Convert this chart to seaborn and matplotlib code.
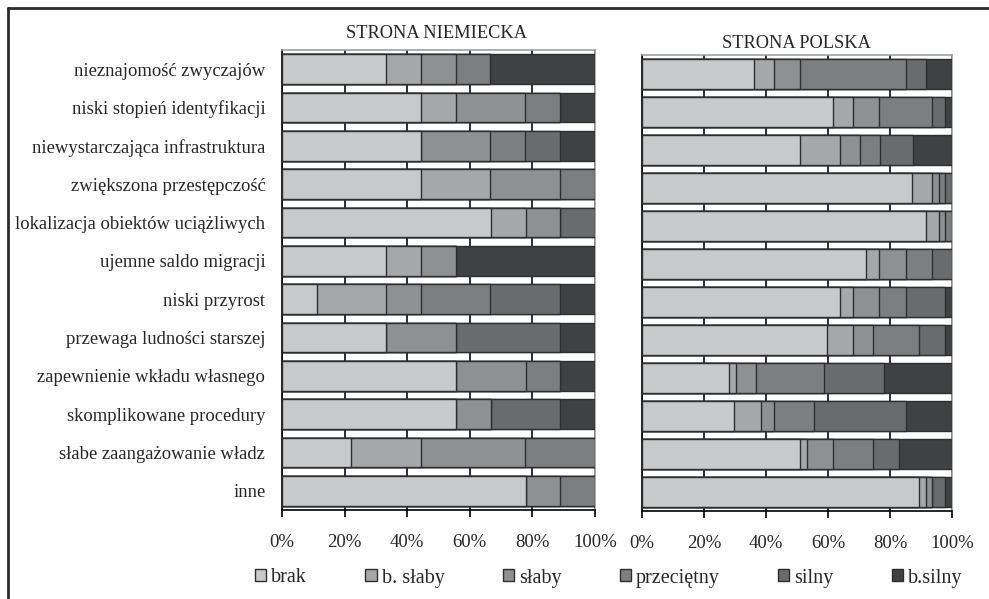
import numpy as np
import pandas as pd
import matplotlib
matplotlib.use("Agg")
import matplotlib.pyplot as plt
from matplotlib.patches import Patch
from matplotlib.lines import Line2D
import seaborn as sns

categories = [
    "nieznajomość zwyczajów",
    "niski stopień identyfikacji",
    "niewystarczająca infrastruktura",
    "zwiększona przestępczość",
    "lokalizacja obiektów uciążliwych",
    "ujemne saldo migracji",
    "niski przyrost",
    "przewaga ludności starszej",
    "zapewnienie wkładu własnego",
    "skomplikowane procedury",
    "słabe zaangażowanie władz",
    "inne",
]
levels = ["brak", "b. słaby", "słaby", "przeciętny", "silny", "b.silny"]
tick_labels = ["0%", "20%", "40%", "60%", "80%", "100%"]
tick_values = [0, 20, 40, 60, 80, 100]

# STRONA NIEMIECKA (percent)
de_brak       = [33.3, 44.4, 44.4, 44.4, 66.7, 33.3, 11.1, 33.3, 55.6, 55.6, 22.2, 77.8]
de_bslaby     = [11.1, 11.1, 0.0, 22.2, 11.1, 11.1, 22.2, 0.0, 0.0, 0.0, 22.2, 0.0]
de_slaby      = [11.1, 22.2, 22.2, 22.2, 11.1, 11.1, 11.1, 22.2, 22.2, 11.1, 33.3, 11.1]
de_przecietny = [11.1, 11.1, 11.1, 11.2, 0.0, 0.0, 22.2, 0.0, 11.1, 0.0, 22.3, 11.1]
de_silny      = [0.0, 0.0, 11.1, 0.0, 11.1, 0.0, 22.2, 33.3, 0.0, 22.2, 0.0, 0.0]
de_bsilny     = [33.4, 11.2, 11.2, 0.0, 0.0, 44.5, 11.2, 11.2, 11.1, 11.1, 0.0, 0.0]

# STRONA POLSKA (percent)
pl_brak       = [36.2, 61.7, 51.1, 87.2, 91.5, 72.3, 63.8, 59.6, 28.0, 29.8, 51.0, 89.4]
pl_bslaby     = [6.4, 6.4, 12.8, 6.4, 4.3, 4.3, 4.3, 8.5, 2.4, 8.5, 2.2, 2.1]
pl_slaby      = [8.5, 8.5, 6.4, 2.1, 2.1, 8.5, 8.5, 6.4, 6.5, 4.3, 8.5, 2.1]
pl_przecietny = [34.0, 17.0, 6.4, 2.1, 2.1, 8.5, 8.5, 14.9, 21.7, 12.8, 12.8, 0.0]
pl_silny      = [6.4, 4.3, 10.6, 2.2, 0.0, 6.4, 12.8, 8.5, 19.6, 29.8, 8.5, 4.3]
pl_bsilny     = [8.5, 2.1, 12.7, 0.0, 0.0, 0.0, 2.1, 2.1, 21.8, 14.8, 17.0, 2.1]

colors = ["#c8c9cb", "#a6a7a9", "#8f9092", "#7d7e80", "#6a6b6d", "#404143"]
edge = "#2e2e30"

sns.set_style("white")
plt.rcParams["font.family"] = ["Liberation Serif", "DejaVu Serif"]
plt.rcParams["font.size"] = 13

fig = plt.figure(figsize=(9.89, 5.99), dpi=100)

def draw(ax, series, show_labels):
    df = pd.DataFrame({lv: s for lv, s in zip(levels, series)}, index=categories)
    cum = df.cumsum(axis=1)
    for lv, c in reversed(list(zip(levels, colors))):
        sns.barplot(x=cum[lv].values, y=categories, orient="h", color=c,
                    edgecolor=edge, linewidth=1.0, width=0.78, ax=ax,
                    saturation=1, zorder=3)
    ax.set_xlim(0, 100)
    ax.set_ylim(len(categories) - 0.5, -0.5)
    ax.set_xticks(tick_values)
    ax.set_xticklabels(tick_labels, fontsize=13.5)
    ax.set_yticks(range(len(categories)))
    if show_labels:
        ax.set_yticklabels(categories, fontsize=13.4)
    else:
        ax.set_yticklabels([])
    ax.set_yticks(np.arange(-0.5, len(categories), 1.0), minor=True)
    ax.tick_params(axis="y", which="major", length=0, pad=12)
    ax.tick_params(axis="y", which="minor", length=6, width=1, color="black", direction="out")
    ax.tick_params(axis="x", which="major", length=5, width=1.2, color="black",
                   direction="out", pad=12, bottom=True)
    ax.set_xlabel("")
    ax.set_ylabel("")
    ax.xaxis.grid(True, color="#1e1e1e", linewidth=1.3, zorder=0)
    ax.yaxis.grid(False)
    ax.set_axisbelow(True)
    for s in ["left", "bottom"]:
        ax.spines[s].set_color("black")
        ax.spines[s].set_linewidth(1.2)
        ax.spines[s].set_visible(True)
    for s in ["top", "right"]:
        ax.spines[s].set_color("#a0a0a0")
        ax.spines[s].set_linewidth(1.2)
        ax.spines[s].set_visible(True)

W, H = 989.0, 599.0
ax1 = fig.add_axes([282 / W, 1 - 510 / H, 313 / W, 460 / H])
ax2 = fig.add_axes([642 / W, 1 - 511 / H, 310 / W, 456 / H])

draw(ax1, [de_brak, de_bslaby, de_slaby, de_przecietny, de_silny, de_bsilny], True)
draw(ax2, [pl_brak, pl_bslaby, pl_slaby, pl_przecietny, pl_silny, pl_bsilny], False)

fig.text(437 / W, 1 - 34 / H, "STRONA NIEMIECKA", ha="center", va="center", fontsize=13.2)
fig.text(796 / W, 1 - 43 / H, "STRONA POLSKA", ha="center", va="center", fontsize=13.2)

handles = [Patch(facecolor=c, edgecolor=edge, linewidth=1.0, label=lv)
           for lv, c in zip(levels, colors)]
fig.legend(handles=handles, loc="center", bbox_to_anchor=(609 / W, 1 - 578 / H),
           ncol=6, frameon=False, fontsize=14.5, handlelength=0.55, handleheight=0.55,
           handletextpad=0.25, columnspacing=2.9)

# figure frame (left and top visible)
fig.add_artist(Line2D([7.5 / W, 7.5 / W], [0, 1 - 8 / H], transform=fig.transFigure,
                      color="#2a2a2a", linewidth=2))
fig.add_artist(Line2D([7.5 / W, 1.0], [1 - 8 / H, 1 - 8 / H], transform=fig.transFigure,
                      color="#2a2a2a", linewidth=2))

fig.savefig("out.png", dpi=100)
